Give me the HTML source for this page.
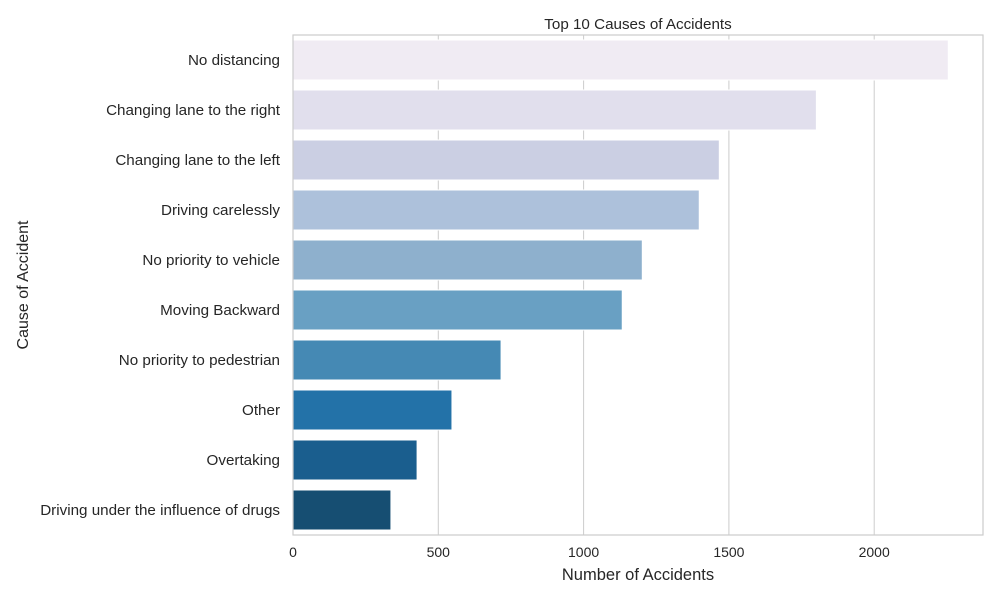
<!DOCTYPE html>
<html><head><meta charset="utf-8"><style>
body{margin:0;background:#fff;font-family:"Liberation Sans",sans-serif;}
</style></head><body>
<svg id="chart" width="1000" height="600" xmlns="http://www.w3.org/2000/svg" font-family="Liberation Sans, sans-serif"></svg>
<script>
const categories=["No distancing","Changing lane to the right","Changing lane to the left","Driving carelessly","No priority to vehicle","Moving Backward","No priority to pedestrian","Other","Overtaking","Driving under the influence of drugs"];
const counts=[2255,1801,1467,1398,1202,1133,716,547,427,337];
const xTicks=[0,500,1000,1500,2000];
const colors=["#f0ebf3","#e1dfed","#cbcfe3","#adc1db","#8eb0cd","#69a0c3","#4589b4","#2372a8","#1a5e8e","#164e72"];
const svg=document.getElementById('chart');
const NS="http://www.w3.org/2000/svg";
const L=293,R=983,T=35,B=535;
const xs=v=>L+v*(874.2-L)/2000;
const band=(B-T)/categories.length;
function mk(tag,attrs,txt){const e=document.createElementNS(NS,tag);for(const k in attrs)e.setAttribute(k,attrs[k]);if(txt!==undefined)e.textContent=txt;svg.appendChild(e);return e;}
xTicks.forEach(t=>{
 const g=mk('line',{x1:xs(t),x2:xs(t),y1:T,y2:B,stroke:'#cccccc','stroke-width':1});
 
 
 const l=mk('text',{x:xs(t),y:557,'text-anchor':'middle','font-size':14,fill:'#262626'},t);
 
 
});
categories.forEach((c,i)=>{
 const cy=T+band*(i+0.5);
 const r=mk('rect',{x:xs(0),y:cy-band*0.4,width:xs(counts[i])-xs(0),height:band*0.8,fill:colors[i],stroke:'#fff','stroke-width':1});
 
 
 const l=mk('text',{x:280,y:cy+5,'text-anchor':'end','font-size':15.2,fill:'#262626'},c);
 
 
});
const f=mk('rect',{x:L,y:T,width:R-L,height:B-T,fill:'none',stroke:'#cccccc','stroke-width':1.2});


const t=mk('text',{x:(L+R)/2,y:29,'text-anchor':'middle','font-size':15.2,fill:'#262626'},'Top 10 Causes of Accidents');


const xt=mk('text',{x:(L+R)/2,y:580,'text-anchor':'middle','font-size':16.5,fill:'#262626'},'Number of Accidents');


const yt=mk('text',{x:28,y:(T+B)/2,'text-anchor':'middle','font-size':16,fill:'#262626',transform:'rotate(-90 28 '+((T+B)/2)+')'},'Cause of Accident');


</script>
</body></html>
